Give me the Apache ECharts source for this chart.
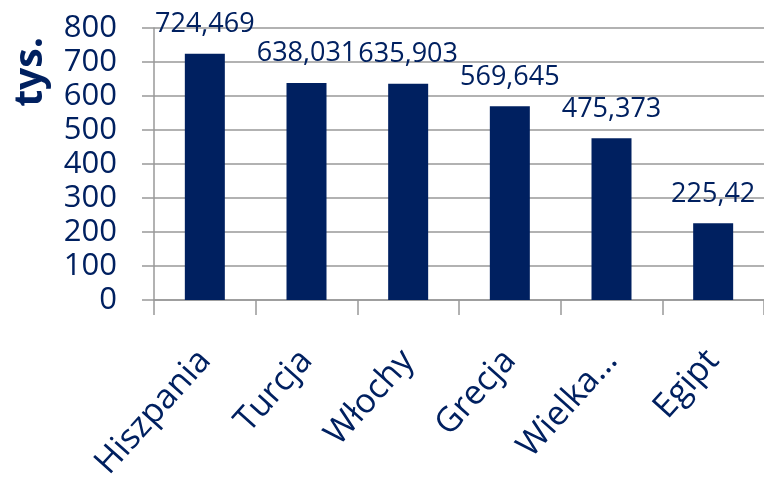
<!DOCTYPE html>
<html>
<head>
<meta charset="utf-8">
<script src="https://cdn.jsdelivr.net/npm/echarts@6/dist/echarts.min.js"></script>
<style>
  html, body { margin: 0; padding: 0; background: #fff; }
</style>
</head>
<body>
<div id="chart" style="width: 764px; height: 489px"></div>
<script>
// dane z wykresu (tys.)
const kraje = ["Hiszpania", "Turcja", "Włochy", "Grecja", "Wielka…", "Egipt"];
const wartosci = [724.469, 638.031, 635.903, 569.645, 475.373, 225.42];
const etykiety = ["724,469", "638,031", "635,903", "569,645", "475,373", "225,42"];

const navy = "#002060";
const font = "Open Sans";

const myChart = echarts.init(document.getElementById("chart"));

const option = {
  animation: false,
  textStyle: { fontFamily: font },
  grid: {
    left: 154,
    top: 28,
    width: 614,
    height: 272
  },
  graphic: [
    {
      type: "text",
      x: 31,
      y: 72,
      rotation: Math.PI / 2,
      style: {
        text: "tys.",
        font: "bold 39px " + font,
        fill: navy,
        align: "center",
        verticalAlign: "middle"
      }
    }
  ],
  xAxis: {
    type: "category",
    data: kraje,
    axisLine: { lineStyle: { color: "#999", width: 1.5 } },
    axisTick: { show: true, length: 15, lineStyle: { color: "#999", width: 1.5 } },
    axisLabel: {
      rotate: 48,
      margin: 55,
      color: navy,
      fontSize: 34,
      fontFamily: font
    }
  },
  yAxis: {
    type: "value",
    min: 0,
    max: 800,
    interval: 100,
    axisLine: { show: true, lineStyle: { color: "#999", width: 1.5 } },
    axisTick: { show: true, inside: false, length: 12, lineStyle: { color: "#999", width: 1.5 } },
    splitLine: { show: true, lineStyle: { color: "#999", width: 1.5 } },
    axisLabel: {
      margin: 37,
      color: navy,
      fontSize: 31,
      fontFamily: font
    }
  },
  series: [
    {
      type: "bar",
      data: wartosci,
      barWidth: 40,
      itemStyle: { color: navy },
      label: {
        show: true,
        position: "top",
        distance: 16,
        color: navy,
        fontSize: 27,
        fontFamily: font,
        formatter: function (p) {
          return etykiety[p.dataIndex];
        }
      }
    }
  ]
};

myChart.setOption(option);
</script>
</body>
</html>
